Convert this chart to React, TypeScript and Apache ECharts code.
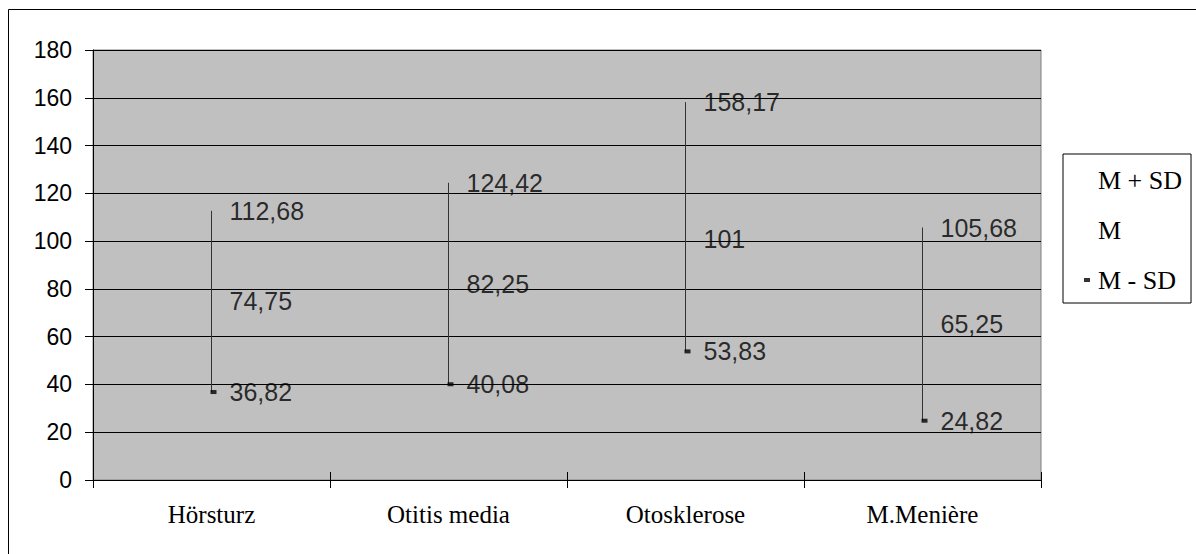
import React, { useEffect, useRef } from "react";
import * as echarts from "echarts";

const categories = ["Hörsturz", "Otitis media", "Otosklerose", "M.Menière"];
const mPlusSd = [112.68, 124.42, 158.17, 105.68];
const mean = [74.75, 82.25, 101, 65.25];
const mMinusSd = [36.82, 40.08, 53.83, 24.82];
const seriesNames = ["M + SD", "M", "M - SD"];
const yMin = 0;
const yMax = 180;
const yStep = 20;

const fmt = (v: number) => String(v).replace(".", ",");

export default function App() {
  const ref = useRef<HTMLDivElement>(null);
  useEffect(() => {
    if (!ref.current) return;
    const chart = echarts.init(ref.current, undefined, { renderer: "svg" });
    const valueFont = { fontFamily: "Liberation Sans, Arial, sans-serif", fontSize: 25, color: "#000" };
    const labelCommon = (dist: number) => ({
      show: true,
      position: "right" as const,
      distance: dist,
      formatter: (p: any) => fmt(p.value[1]),
      ...valueFont,
    });
    chart.setOption({
      animation: false,
      backgroundColor: "#fff",
      graphic: [
        {
          type: "rect",
          silent: true,
          z: -10,
          shape: { x: 8.5, y: 9.5, width: 1300, height: 700 },
          style: { fill: "none", stroke: "#000", lineWidth: 1 },
        },
      ],
      grid: {
        left: 93,
        top: 50,
        right: 155,
        bottom: 74,
        show: true,
        backgroundColor: "#c0c0c0",
        borderColor: "#808080",
        borderWidth: 1,
      },
      legend: {
        left: 1063,
        top: 154,
        orient: "vertical",
        padding: [13, 9, 10, 21],
        borderColor: "#000",
        borderWidth: 1,
        itemWidth: 6,
        itemHeight: 4,
        itemGap: 24,
        icon: "rect",
        selectedMode: false,
        textStyle: {
          fontFamily: "Liberation Serif, Times New Roman, serif",
          fontSize: 26,
          lineHeight: 26,
          color: "#000",
          padding: [0, 0, 0, 3],
        },
        data: [
          { name: seriesNames[0], itemStyle: { color: "rgba(0,0,0,0)" } },
          { name: seriesNames[1], itemStyle: { color: "rgba(0,0,0,0)" } },
          { name: seriesNames[2], itemStyle: { color: "#000" } },
        ],
      },
      xAxis: [
        {
          type: "category",
          data: categories,
          boundaryGap: true,
          axisLine: { show: true, lineStyle: { color: "#000", width: 1 } },
          axisTick: { show: true, length: 8, lineStyle: { color: "#000" } },
          axisLabel: {
            margin: 22,
            fontFamily: "Liberation Serif, Times New Roman, serif",
            fontSize: 25,
            color: "#000",
          },
          splitLine: { show: false },
        },
        {
          type: "category",
          data: categories,
          position: "bottom",
          boundaryGap: true,
          axisLine: { show: false },
          axisTick: { show: true, inside: true, length: 8, lineStyle: { color: "#000" } },
          axisLabel: { show: false },
          splitLine: { show: false },
        },
      ],
      yAxis: {
        type: "value",
        min: yMin,
        max: yMax,
        interval: yStep,
        axisLine: { show: true, lineStyle: { color: "#000", width: 1 } },
        axisTick: { show: true, length: 8, lineStyle: { color: "#000" } },
        axisLabel: {
          margin: 21,
          fontFamily: "Liberation Sans, Arial, sans-serif",
          fontSize: 23,
          color: "#000",
        },
        splitLine: { show: true, lineStyle: { color: "#000", width: 1 } },
      },
      series: [
        {
          type: "custom",
          name: "range",
          xAxisIndex: 0,
          data: categories.map((_, i) => [i, mMinusSd[i], mPlusSd[i]]),
          renderItem: (params: any, api: any) => {
            const lo = api.coord([api.value(0), api.value(1)]);
            const hi = api.coord([api.value(0), api.value(2)]);
            return {
              type: "line",
              shape: { x1: lo[0], y1: lo[1], x2: hi[0], y2: hi[1] },
              style: { stroke: "#333", lineWidth: 1 },
            };
          },
          z: 2,
        },
        {
          type: "scatter",
          name: seriesNames[0],
          xAxisIndex: 0,
          symbol: "rect",
          symbolSize: [6, 4],
          itemStyle: { color: "rgba(0,0,0,0)" },
          data: categories.map((_, i) => [i, mPlusSd[i]]),
          label: labelCommon(15),
          z: 3,
        },
        {
          type: "scatter",
          name: seriesNames[1],
          xAxisIndex: 0,
          symbol: "rect",
          symbolSize: [6, 4],
          itemStyle: { color: "rgba(0,0,0,0)" },
          data: categories.map((_, i) => [i, mean[i]]),
          label: labelCommon(15),
          z: 3,
        },
        {
          type: "scatter",
          name: seriesNames[2],
          xAxisIndex: 0,
          symbol: "rect",
          symbolSize: [6, 4],
          symbolOffset: [2, 0],
          itemStyle: { color: "#000" },
          data: categories.map((_, i) => [i, mMinusSd[i]]),
          label: labelCommon(13),
          z: 3,
        },
      ],
    });
    return () => chart.dispose();
  }, []);
  return (
    <div style={{ position: "absolute", left: 0, top: 0, width: 1196, height: 554 }}>
      <div ref={ref} style={{ width: 1196, height: 554 }} />
    </div>
  );
}
